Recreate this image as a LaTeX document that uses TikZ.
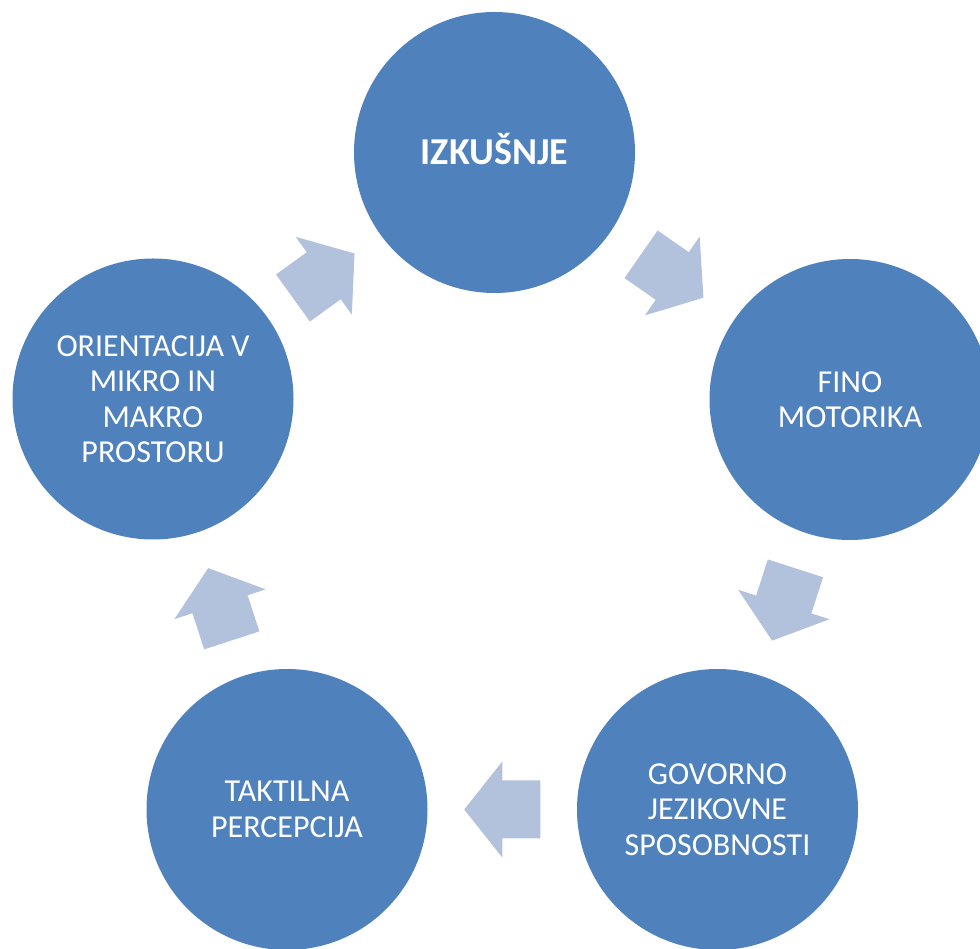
\documentclass[tikz,border=0pt]{standalone}
\usepackage{fontspec}
\setmainfont{Carlito}
\usetikzlibrary{calc}
\definecolor{circblue}{HTML}{4F81BD}
\definecolor{arrowblue}{HTML}{B3C2DC}
\tikzset{
  stage/.style={circle, fill=circblue, minimum size=281pt, inner sep=0pt,
    text=white, align=center, font=\fontsize{32}{35.5}\selectfont},
  flowarrow/.style={fill=arrowblue}
}
\newcommand\cyclearrow[2]{%
  \pgfmathanglebetweenpoints{\pgfpointanchor{#1}{center}}{\pgfpointanchor{#2}{center}}%
  \let\arrang\pgfmathresult
  \fill[flowarrow, shift={($(#1)!0.5!(#2)$)}, rotate=\arrang]
    (-38pt,-29pt) -- (0pt,-29pt) -- (0pt,-48pt) -- (38pt,0pt) --
    (0pt,48pt) -- (0pt,29pt) -- (-38pt,29pt) -- cycle;
}
\begin{document}
\begin{tikzpicture}[x=1pt,y=1pt]
\useasboundingbox (0,0) rectangle (980,948);
\node[stage, font=\fontsize{38}{44}\selectfont\bfseries, text height=24.5pt, text depth=0pt] (izk) at (494.5,795.5) {IZKUŠNJE};
\node[stage] (fino) at (850,548.5) {FINO\\MOTORIKA};
\node[stage] (gov) at (717.5,138.5) {GOVORNO\\JEZIKOVNE\\SPOSOBNOSTI};
\node[stage] (tak) at (287,138.5) {TAKTILNA\\PERCEPCIJA};
\node[stage] (ori) at (153,549) {ORIENTACIJA V\\MIKRO IN\\MAKRO\\PROSTORU};
\cyclearrow{izk}{fino}
\cyclearrow{fino}{gov}
\cyclearrow{gov}{tak}
\cyclearrow{tak}{ori}
\cyclearrow{ori}{izk}
\end{tikzpicture}
\end{document}
